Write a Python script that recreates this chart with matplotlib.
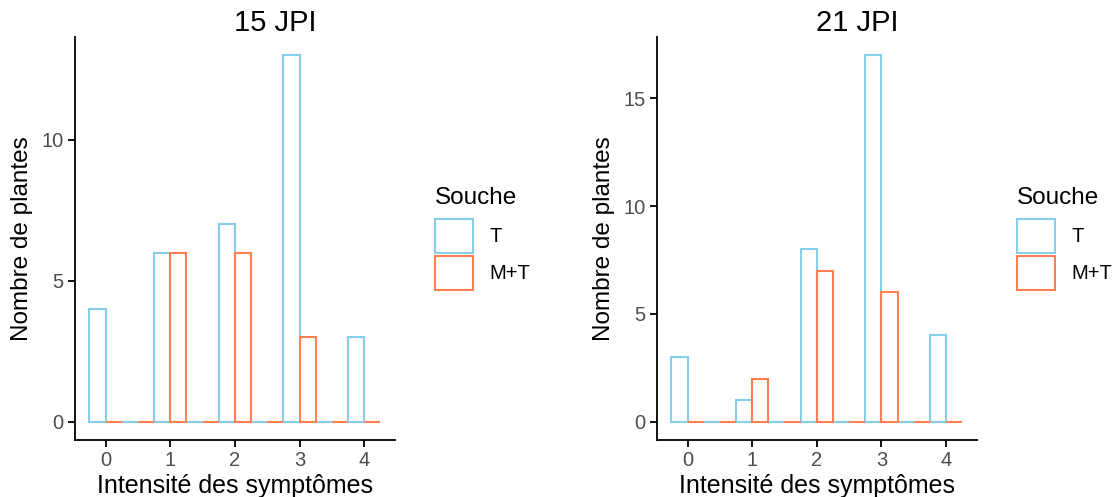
#! /usr/bin/env python
"""Histogrammes de l'intensite des symptomes a 15 et 21 JPI."""

import matplotlib
matplotlib.use('Agg')
import matplotlib.pyplot as plt
from matplotlib.patches import Patch
import numpy as np

plt.rcParams['font.family'] = ['Liberation Sans', 'DejaVu Sans']

# Bin centres (binwidth 0.5), values for each souche
bins = [0, 0.5, 1, 1.5, 2, 2.5, 3, 3.5, 4]
souches = ['T', 'M+T']
colors = {'T': '#87CEEB', 'M+T': '#FF7F50'}

jpi15_T = [4, 0, 6, 0, 7, 0, 13, 0, 3]
jpi15_MT = [0, 0, 6, 0, 6, 0, 3, 0, 0]
jpi21_T = [3, 0, 1, 0, 8, 0, 17, 0, 4]
jpi21_MT = [0, 0, 2, 0, 7, 0, 6, 0, 0]

panels = [('15 JPI', jpi15_T, jpi15_MT, [0, 5, 10]),
          ('21 JPI', jpi21_T, jpi21_MT, [0, 5, 10, 15])]

fig = plt.figure()
fig.set_size_inches(11.17, 4.97)

lefts = [0.0671, 0.588]
legend_x = [435 / 1117, 1017 / 1117]

for i, (title, t_vals, mt_vals, yticks) in enumerate(panels):
    ax = fig.add_axes([lefts[i], 0.1147, 0.2865, 0.811])
    x = np.array(bins)
    ax.bar(x - 0.25, t_vals, width=0.25, align='edge', facecolor='none',
           edgecolor=colors['T'], linewidth=1.5)
    ax.bar(x, mt_vals, width=0.25, align='edge', facecolor='none',
           edgecolor=colors['M+T'], linewidth=1.5)

    ymax = max(max(t_vals), max(mt_vals))
    ax.set_xlim(-0.475, 4.475)
    ax.set_ylim(-0.05 * ymax, ymax * 1.05)
    ax.set_xticks([0, 1, 2, 3, 4])
    ax.set_yticks(yticks)
    ax.spines['top'].set_visible(False)
    ax.spines['right'].set_visible(False)
    ax.spines['left'].set_linewidth(1.3)
    ax.spines['bottom'].set_linewidth(1.3)
    ax.tick_params(labelsize=14.5, colors='black', labelcolor='#4D4D4D',
                   length=5, width=1.3, pad=3)
    ax.set_xlabel('Intensité des symptômes', fontsize=18, labelpad=3)
    ax.set_ylabel('Nombre de plantes', fontsize=17.5, labelpad=6)
    # title centred over panel + legend, as in the original figure
    ax.set_title(title, fontsize=21, pad=2, x=0.625)

    # legend: title drawn separately to get the ggplot spacing
    fig.text(legend_x[i], 1 - 198.5 / 497, 'Souche', fontsize=17.5,
             ha='left', va='center')
    handles = [Patch(facecolor='white', edgecolor=colors[s], linewidth=1.5,
                     label=s) for s in souches]
    fig.legend(handles=handles, loc='upper left',
               bbox_to_anchor=(legend_x[i], 1 - 219 / 497), frameon=False,
               borderpad=0, borderaxespad=0, fontsize=14.5,
               handlelength=1.9, handleheight=2.22, handletextpad=0.8,
               labelspacing=0.15)

fig.savefig('out.png', dpi=100)
